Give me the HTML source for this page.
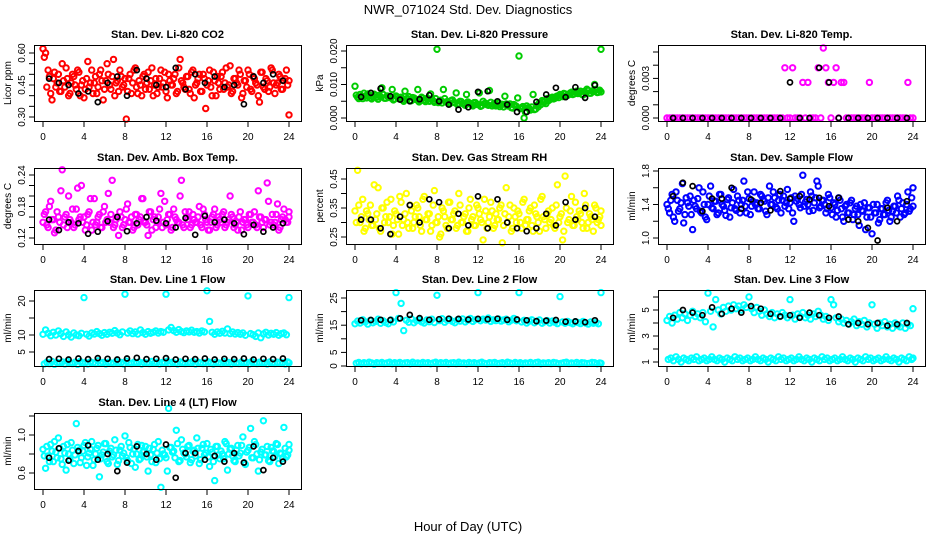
<!DOCTYPE html>
<html><head><meta charset="utf-8">
<style>
html,body{margin:0;padding:0;background:#fff;}
svg{display:block;font-family:"Liberation Sans",Arial,sans-serif;}
</style></head>
<body>
<svg id="chart" width="936" height="540" viewBox="0 0 936 540" xmlns="http://www.w3.org/2000/svg">
<rect width="936" height="540" fill="#fff"/>
<text x="468" y="14" text-anchor="middle" font-size="13">NWR_071024  Std. Dev. Diagnostics</text>
<text x="468" y="531" text-anchor="middle" font-size="13">Hour of Day (UTC)</text>
</svg>
<script>
const xTicks=[0,4,8,12,16,20,24];

const co2A=[0.62,0.60,0.52,0.41,0.48,0.44,0.50,0.42,0.47,0.53,0.40,0.46,0.49,0.43,0.51,0.45,0.39,0.48,0.44,0.52,0.46,0.41,0.50,0.47,0.43,0.55,0.45,0.49,0.40,0.47,0.52,0.44,0.48,0.42,0.50,0.46,0.53,0.41,0.45,0.49,0.43,0.51,0.47,0.40,0.48,0.44,0.52,0.46,0.42,0.50,0.45,0.48,0.41,0.53,0.47,0.44,0.49,0.43,0.51,0.39,0.46,0.50,0.42,0.48,0.45,0.52,0.40,0.47,0.49,0.43,0.51,0.46,0.44,0.54,0.42,0.48,0.45,0.50,0.41,0.47,0.52,0.43,0.49,0.46,0.40,0.51,0.44,0.48,0.42,0.53,0.46,0.45,0.50,0.43,0.47,0.52,0.31];
const co2B=[0.58,0.44,0.49,0.38,0.51,0.46,0.42,0.55,0.44,0.48,0.41,0.50,0.45,0.52,0.40,0.47,0.43,0.56,0.46,0.41,0.49,0.44,0.52,0.38,0.47,0.50,0.43,0.57,0.46,0.42,0.49,0.45,0.29,0.48,0.41,0.52,0.44,0.47,0.40,0.50,0.46,0.43,0.53,0.45,0.41,0.48,0.44,0.51,0.39,0.47,0.45,0.50,0.42,0.57,0.46,0.43,0.49,0.41,0.52,0.45,0.48,0.42,0.50,0.34,0.47,0.44,0.51,0.40,0.46,0.49,0.43,0.53,0.45,0.41,0.48,0.46,0.52,0.39,0.47,0.44,0.50,0.42,0.48,0.45,0.37,0.51,0.43,0.47,0.44,0.52,0.41,0.46,0.49,0.43,0.48,0.45,0.47];
const co2K=[0.48,0.46,0.45,0.41,0.42,0.37,0.46,0.49,0.40,0.52,0.48,0.45,0.44,0.53,0.43,0.50,0.46,0.49,0.44,0.45,0.36,0.49,0.46,0.50,0.47];

const presA=[0.0095,0.0062,0.0070,0.0058,0.0066,0.0072,0.0060,0.0064,0.0068,0.0056,0.0063,0.0070,0.0059,0.0065,0.0061,0.0054,0.0066,0.0058,0.0062,0.0050,0.0057,0.0064,0.0052,0.0060,0.0055,0.0048,0.0062,0.0053,0.0058,0.0050,0.0056,0.0047,0.0205,0.0052,0.0045,0.0058,0.0049,0.0043,0.0054,0.0046,0.0040,0.0050,0.0044,0.0038,0.0048,0.0042,0.0036,0.0046,0.0040,0.0035,0.0050,0.0044,0.0038,0.0047,0.0041,0.0036,0.0045,0.0039,0.0033,0.0042,0.0037,0.0031,0.0040,0.0035,0.0185,0.0030,0.0000,0.0036,0.0028,0.0033,0.0025,0.0038,0.0045,0.0052,0.0048,0.0058,0.0055,0.0062,0.0059,0.0066,0.0070,0.0064,0.0072,0.0068,0.0075,0.0070,0.0078,0.0073,0.0080,0.0069,0.0076,0.0082,0.0074,0.0079,0.0085,0.0077,0.0205];
const presB=[0.0068,0.0058,0.0064,0.0074,0.0060,0.0067,0.0057,0.0071,0.0062,0.0068,0.0090,0.0059,0.0066,0.0061,0.0085,0.0057,0.0063,0.0060,0.0054,0.0080,0.0058,0.0051,0.0061,0.0056,0.0085,0.0052,0.0059,0.0049,0.0056,0.0072,0.0051,0.0058,0.0046,0.0053,0.0085,0.0048,0.0044,0.0052,0.0047,0.0075,0.0043,0.0049,0.0041,0.0070,0.0045,0.0039,0.0046,0.0041,0.0075,0.0037,0.0043,0.0040,0.0082,0.0036,0.0044,0.0039,0.0034,0.0041,0.0065,0.0036,0.0042,0.0030,0.0037,0.0060,0.0028,0.0034,0.0018,0.0030,0.0024,0.0070,0.0027,0.0033,0.0040,0.0048,0.0043,0.0052,0.0060,0.0057,0.0064,0.0061,0.0068,0.0073,0.0066,0.0070,0.0077,0.0072,0.0080,0.0075,0.0071,0.0079,0.0086,0.0074,0.0081,0.0100,0.0076,0.0083,0.0078];
const presK=[0.0063,0.0075,0.0088,0.0065,0.0055,0.0050,0.0056,0.0068,0.0050,0.0040,0.0025,0.0032,0.0078,0.0080,0.0050,0.0040,0.0018,0.0018,0.0048,0.0070,0.0090,0.0062,0.0092,0.0060,0.0098];

const tempA=[0,0,0,0,0,0,0,0,0,0,0,0,0,0,0,0,0,0,0,0,0,0,0,0,0,0,0,0,0,0,0,0,0,0,0,0,0,0,0,0,0,0,0,0,0,0,0.0038,0,0,0.0038,0,0,0,0.0027,0,0.0027,0,0,0,0.0038,0,0.0053,0.0038,0.0027,0,0.0027,0.0038,0,0.0027,0.0027,0,0,0,0,0,0,0,0,0,0.0027,0,0,0,0,0,0,0,0,0,0,0,0,0,0,0.0027,0,0];
const tempK=[0,0,0,0,0,0,0,0,0,0,0,0,0.0027,0,0,0.0038,0.0027,0,0,0,0,0,0,0,0];

const ambA=[0.150,0.170,0.140,0.190,0.155,0.135,0.160,0.210,0.145,0.165,0.200,0.150,0.140,0.175,0.155,0.220,0.160,0.145,0.170,0.135,0.195,0.150,0.165,0.140,0.180,0.155,0.150,0.230,0.145,0.160,0.170,0.140,0.155,0.185,0.150,0.135,0.165,0.145,0.160,0.195,0.150,0.125,0.170,0.155,0.140,0.160,0.205,0.150,0.145,0.165,0.135,0.175,0.155,0.150,0.230,0.140,0.160,0.170,0.145,0.155,0.150,0.180,0.140,0.165,0.150,0.135,0.160,0.175,0.145,0.155,0.165,0.140,0.150,0.200,0.160,0.145,0.135,0.170,0.150,0.155,0.140,0.165,0.150,0.145,0.210,0.160,0.140,0.155,0.190,0.150,0.145,0.165,0.135,0.155,0.175,0.150,0.160];
const ambB=[0.165,0.145,0.180,0.155,0.130,0.170,0.150,0.250,0.160,0.140,0.155,0.175,0.145,0.215,0.160,0.150,0.135,0.165,0.195,0.150,0.145,0.160,0.140,0.170,0.150,0.205,0.165,0.140,0.155,0.125,0.160,0.145,0.175,0.150,0.160,0.140,0.165,0.155,0.195,0.150,0.145,0.170,0.135,0.160,0.150,0.175,0.140,0.190,0.155,0.165,0.140,0.160,0.150,0.200,0.145,0.170,0.155,0.140,0.165,0.150,0.160,0.145,0.175,0.155,0.135,0.150,0.165,0.140,0.160,0.150,0.170,0.145,0.155,0.165,0.140,0.150,0.160,0.135,0.155,0.145,0.165,0.150,0.170,0.140,0.160,0.150,0.155,0.225,0.145,0.165,0.150,0.185,0.140,0.160,0.155,0.150,0.170];
const ambK=[0.155,0.135,0.150,0.148,0.128,0.132,0.152,0.160,0.133,0.148,0.160,0.153,0.148,0.140,0.158,0.126,0.162,0.150,0.155,0.148,0.127,0.145,0.132,0.140,0.148];

const rhA=[0.34,0.48,0.30,0.38,0.28,0.33,0.36,0.29,0.31,0.42,0.27,0.35,0.32,0.30,0.38,0.29,0.33,0.26,0.37,0.31,0.40,0.28,0.34,0.30,0.36,0.32,0.27,0.39,0.31,0.33,0.29,0.41,0.30,0.25,0.35,0.32,0.28,0.37,0.31,0.34,0.29,0.36,0.30,0.33,0.27,0.38,0.32,0.29,0.35,0.31,0.24,0.34,0.30,0.37,0.28,0.33,0.31,0.36,0.29,0.42,0.32,0.27,0.35,0.30,0.33,0.28,0.38,0.31,0.34,0.29,0.36,0.32,0.27,0.39,0.31,0.33,0.30,0.35,0.28,0.43,0.32,0.24,0.46,0.30,0.34,0.29,0.37,0.31,0.33,0.28,0.36,0.30,0.32,0.27,0.35,0.31,0.29];
const rhB=[0.30,0.36,0.32,0.27,0.34,0.31,0.29,0.43,0.33,0.28,0.35,0.30,0.37,0.32,0.26,0.34,0.31,0.39,0.29,0.33,0.30,0.36,0.28,0.32,0.35,0.29,0.38,0.31,0.33,0.27,0.36,0.30,0.32,0.26,0.34,0.29,0.37,0.31,0.33,0.28,0.40,0.30,0.32,0.27,0.35,0.31,0.29,0.36,0.33,0.30,0.38,0.28,0.32,0.34,0.29,0.31,0.35,0.23,0.33,0.30,0.36,0.28,0.32,0.34,0.30,0.37,0.29,0.31,0.35,0.27,0.33,0.30,0.38,0.32,0.28,0.34,0.31,0.29,0.36,0.30,0.33,0.27,0.35,0.31,0.39,0.29,0.32,0.34,0.30,0.40,0.28,0.33,0.31,0.36,0.30,0.32,0.34];
const rhK=[0.31,0.31,0.28,0.26,0.32,0.36,0.30,0.38,0.37,0.28,0.33,0.29,0.39,0.28,0.38,0.30,0.28,0.27,0.28,0.33,0.29,0.37,0.31,0.35,0.32];

const flowA=[1.40,1.30,1.52,1.20,1.45,1.35,1.65,1.28,1.42,1.50,1.10,1.38,1.47,1.32,1.55,1.25,1.40,1.62,1.35,1.44,1.30,1.52,1.38,1.27,1.48,1.36,1.58,1.33,1.45,1.40,1.68,1.30,1.47,1.38,1.55,1.42,1.35,1.50,1.44,1.28,1.62,1.40,1.48,1.35,1.52,1.45,1.38,1.58,1.42,1.30,1.50,1.47,1.36,1.75,1.43,1.40,1.55,1.33,1.48,1.62,1.38,1.45,1.30,1.52,1.36,1.42,1.25,1.48,1.35,1.20,1.40,1.30,1.45,1.28,1.38,1.15,1.33,1.42,1.25,1.36,1.05,1.30,1.40,1.22,1.35,1.28,1.45,1.20,1.32,1.38,1.50,1.25,1.42,1.30,1.55,1.35,1.60];
const flowB=[1.35,1.45,1.25,1.55,1.32,1.42,1.18,1.48,1.38,1.28,1.45,1.35,1.60,1.30,1.40,1.22,1.50,1.36,1.44,1.28,1.52,1.40,1.33,1.46,1.25,1.42,1.35,1.50,1.30,1.45,1.38,1.55,1.28,1.44,1.40,1.35,1.52,1.46,1.32,1.48,1.40,1.55,1.37,1.45,1.30,1.50,1.42,1.35,1.48,1.20,1.44,1.40,1.52,1.38,1.46,1.32,1.50,1.42,1.68,1.36,1.45,1.40,1.35,1.48,1.28,1.40,1.33,1.45,1.25,1.38,1.30,1.42,1.22,1.35,1.28,1.40,1.32,1.10,1.36,1.25,1.40,1.30,1.18,1.35,1.28,1.42,1.33,1.25,1.38,1.30,1.45,1.35,1.28,1.40,1.32,1.48,1.38];
const flowK=[1.50,1.66,1.62,1.32,1.47,1.47,1.60,1.35,1.46,1.42,1.33,1.56,1.47,1.50,1.46,1.48,1.38,1.48,1.22,1.20,1.12,0.97,1.36,1.20,1.44];

const l1A=[10.2,11.5,10.5,9.8,10.8,10.0,11.2,10.4,9.6,10.9,10.1,9.4,10.6,10.0,9.8,10.5,21.0,10.2,9.7,10.6,10.3,11.0,10.4,9.9,10.7,10.2,10.8,10.5,11.3,10.6,10.1,10.9,22.0,10.6,11.2,10.4,10.9,10.3,11.5,10.7,10.2,11.0,10.5,10.8,11.2,10.6,11.0,10.8,22.0,11.5,12.2,11.3,10.8,11.6,11.0,10.7,11.2,10.9,11.4,10.8,11.0,10.6,11.2,10.9,23.0,14.0,10.8,10.2,10.9,10.5,11.1,10.6,11.8,10.4,10.9,10.3,10.7,10.2,10.6,9.9,21.5,10.4,10.1,9.6,10.6,9.2,10.3,10.8,10.0,10.5,10.2,10.7,9.9,10.4,10.6,10.1,21.0];
const l1B=[1.5,2.0,1.6,2.2,1.4,1.9,1.7,2.1,1.5,2.3,1.8,1.6,2.0,1.4,2.2,1.7,1.9,1.5,2.1,1.8,1.6,2.4,1.7,1.9,1.5,2.0,1.8,1.6,2.2,1.7,1.9,1.5,2.3,1.8,1.6,2.0,1.7,2.1,1.5,1.9,1.8,1.6,2.2,1.7,2.0,1.5,1.9,1.8,2.3,1.6,2.0,1.7,1.5,2.1,1.8,1.6,1.9,1.7,2.2,1.5,2.0,1.8,1.6,1.9,2.1,1.7,1.5,2.0,1.8,1.6,2.2,1.7,1.9,1.5,2.0,1.8,1.6,2.1,1.7,1.9,1.5,2.2,1.8,1.6,2.0,1.7,1.9,1.5,2.1,1.8,1.6,2.0,1.7,1.9,1.5,2.1,1.8];
const l1K=[2.9,3.0,2.8,3.1,2.9,3.2,3.0,2.8,3.1,3.3,2.9,3.0,3.2,2.8,3.0,2.9,3.1,2.8,3.0,2.9,3.1,2.8,3.0,2.9,3.1];

const l2A=[15.5,16.5,15.8,17.0,16.2,15.4,16.8,15.9,16.4,17.2,15.7,16.6,16.0,15.5,16.9,16.2,27.0,17.5,23.0,13.0,16.8,16.1,17.3,15.9,16.6,17.0,16.2,15.8,16.9,16.3,17.2,16.0,26.0,16.7,17.4,16.1,16.8,17.1,16.4,15.9,17.0,16.5,17.3,16.2,16.8,17.5,16.4,17.0,27.0,16.6,17.2,16.9,17.6,16.4,17.0,16.7,17.3,16.5,16.9,17.2,16.3,16.8,17.5,16.6,27.0,16.2,16.8,15.8,16.5,17.0,15.9,16.4,16.9,15.7,16.3,16.7,15.8,16.5,16.1,15.6,25.5,16.2,15.7,16.4,15.9,15.5,16.3,16.0,15.6,16.4,15.8,15.4,16.2,15.7,16.0,15.5,27.0];
const l2B=[1.0,1.3,0.8,1.2,0.9,1.4,1.1,0.7,1.2,1.0,1.3,0.9,1.1,1.4,0.8,1.2,1.0,1.3,0.9,1.1,1.2,0.8,1.4,1.0,1.1,0.9,1.3,1.0,1.2,0.8,1.1,1.4,0.9,1.2,1.0,1.3,0.8,1.1,1.2,0.9,1.4,1.0,1.1,0.8,1.3,1.0,1.2,0.9,1.1,1.4,1.0,0.8,1.2,1.1,1.3,0.9,1.0,1.2,0.8,1.4,1.1,0.9,1.3,1.0,1.2,0.8,1.1,1.0,1.3,0.9,1.2,1.4,0.8,1.1,1.0,1.2,0.9,1.3,1.1,0.8,1.0,1.2,1.4,0.9,1.1,1.0,1.3,0.8,1.2,1.1,0.9,1.0,1.3,1.2,0.8,1.1,1.0];
const l2K=[16.8,16.9,17.0,16.9,17.5,18.8,17.6,17.0,17.2,17.4,17.3,17.1,17.3,17.2,17.4,17.0,17.1,16.8,16.5,16.7,16.9,16.3,16.4,16.1,16.8];

const l3A=[4.2,4.5,4.0,4.6,4.3,4.8,4.4,4.7,4.2,4.6,4.9,4.5,4.7,4.4,4.8,4.1,6.3,4.9,3.7,5.8,5.0,4.7,5.2,4.9,5.3,5.0,5.4,5.1,5.3,5.0,5.4,5.2,6.0,5.1,4.8,5.2,4.9,4.6,5.0,4.7,4.5,4.8,4.4,4.7,4.5,4.8,4.6,4.4,5.8,4.6,4.3,4.7,4.5,4.8,4.4,4.6,4.3,4.7,4.5,4.9,4.6,4.3,4.5,4.2,5.8,5.4,4.4,4.1,4.3,4.0,4.2,3.9,4.1,4.3,3.8,4.1,3.9,4.2,3.7,4.0,5.4,3.9,3.6,4.0,3.8,4.1,3.7,3.9,3.6,4.0,3.8,3.7,4.0,3.6,3.9,3.8,5.1];
const l3B=[1.2,1.3,1.1,1.4,1.2,1.0,1.3,1.2,1.1,1.3,1.2,1.4,1.1,1.2,1.3,1.1,1.2,1.4,1.2,1.1,1.3,1.2,1.0,1.3,1.2,1.1,1.4,1.2,1.3,1.1,1.2,1.3,1.1,1.2,1.4,1.2,1.1,1.3,1.2,1.0,1.3,1.2,1.1,1.4,1.2,1.3,1.1,1.2,1.3,1.1,1.2,1.4,1.2,1.1,1.3,1.2,1.0,1.3,1.2,1.1,1.4,1.2,1.3,1.1,1.2,1.3,1.1,1.2,1.4,1.2,1.1,1.3,1.2,1.0,1.3,1.2,1.1,1.4,1.2,1.3,1.1,1.2,1.3,1.1,1.2,1.4,1.2,1.1,1.3,1.2,1.0,1.3,1.2,1.1,1.4,1.2,1.3];
const l3K=[4.4,5.0,4.8,4.6,5.2,4.7,5.1,4.8,5.3,5.1,4.7,4.5,4.6,4.4,4.8,4.6,4.4,4.5,3.9,4.0,3.9,4.0,3.8,3.9,4.0];

const l4A=[0.85,0.65,0.78,0.90,0.72,0.82,0.97,0.75,0.88,0.63,0.80,0.92,0.70,1.12,0.84,0.76,0.89,0.68,0.81,0.93,0.74,0.86,0.56,0.79,0.91,0.72,0.83,0.77,0.95,0.69,0.84,0.78,0.99,0.73,0.87,0.80,0.66,0.90,0.75,0.82,0.88,0.62,0.79,0.85,0.71,0.93,0.45,0.80,0.76,1.28,0.87,0.83,1.05,0.72,0.95,0.81,0.77,0.89,0.74,0.84,0.97,0.70,0.86,0.79,0.91,0.67,0.82,0.52,0.88,0.75,0.80,0.93,0.63,0.85,0.78,0.72,0.89,0.81,0.98,0.69,0.84,1.07,0.76,0.90,0.62,0.82,1.15,0.79,0.73,0.87,0.83,0.91,0.70,0.80,1.08,0.77,0.90];
const l4B=[0.78,0.88,0.72,0.83,0.93,0.76,0.86,0.69,0.81,0.90,0.74,0.84,0.79,0.87,0.71,0.83,0.92,0.77,0.85,0.68,0.80,0.89,0.75,0.82,0.91,0.70,0.86,0.79,0.84,0.73,0.88,0.81,0.76,0.92,0.70,0.85,0.80,0.74,0.89,0.83,0.77,0.86,0.72,0.90,0.81,0.75,0.84,0.79,0.62,0.87,0.82,0.76,0.91,0.73,0.85,0.80,0.88,0.71,0.83,0.78,0.86,0.74,0.90,0.81,0.77,0.85,0.72,0.88,0.79,0.83,0.75,0.91,0.80,0.86,0.73,0.84,0.78,0.89,0.71,0.82,0.87,0.76,0.93,0.80,0.74,0.85,0.79,0.88,0.72,0.83,0.77,0.90,0.81,0.75,0.86,0.79,0.84];
const l4K=[0.76,0.86,0.73,0.83,0.89,0.74,0.80,0.62,0.71,0.88,0.80,0.74,0.90,0.55,0.81,0.81,0.74,0.78,0.72,0.81,0.71,0.88,0.63,0.76,0.72];

const co2Ticks=[0.30,0.35,0.40,0.45,0.50,0.55,0.60], co2Labels=["0.30","0.45","0.60"];
const presTicks=[0,0.005,0.010,0.015,0.020], presLabels=["0.000","0.010","0.020"];
const tempTicks=[0,0.001,0.002,0.003,0.004,0.005], tempLabels=["0.000","0.003"];
const ambTicks=[0.12,0.14,0.16,0.18,0.20,0.22,0.24], ambLabels=["0.12","0.18","0.24"];
const rhTicks=[0.25,0.30,0.35,0.40,0.45], rhLabels=["0.25","0.35","0.45"];
const flowTicks=[1.0,1.2,1.4,1.6,1.8], flowLabels=["1.0","1.4","1.8"];
const l1Ticks=[5,10,15,20], l1Labels=["5","10","20"];
const l2Ticks=[0,5,10,15,20,25], l2Labels=["0","5","15","25"];
const l3Ticks=[1,2,3,4,5,6], l3Labels=["1","3","5"];
const l4Ticks=[0.6,0.8,1.0,1.2], l4Labels=["0.6","1.0"];

const NS="http://www.w3.org/2000/svg";
const svg=document.getElementById('chart');
const colL=[34,346,658], rowT=[45,168,290,413], W=267, H=76;
function mk(tag,attrs,parent){const e=document.createElementNS(NS,tag);for(const k in attrs)e.setAttribute(k,attrs[k]);(parent||svg).appendChild(e);return e;}

const panels=[
 {name:'co2',title:'Stan. Dev. Li-820 CO2',ylab:'Licor ppm',c:0,r:0,col:'#ff0000',cal:[0.30,72,0.60,8],ticks:co2Ticks,labels:co2Labels,series:[co2A,co2B],blk:co2K},
 {name:'pressure',title:'Stan. Dev. Li-820 Pressure',ylab:'kPa',c:1,r:0,col:'#00cc00',cal:[0,73,0.020,6],ticks:presTicks,labels:presLabels,series:[presA,presB],blk:presK},
 {name:'licor-temp',title:'Stan. Dev. Li-820 Temp.',ylab:'degrees C',c:2,r:0,col:'#ff00ff',cal:[0,73,0.005,7],ticks:tempTicks,labels:tempLabels,series:[tempA],blk:tempK},
 {name:'amb-box-temp',title:'Stan. Dev. Amb. Box Temp.',ylab:'degrees C',c:0,r:1,col:'#ff00ff',cal:[0.12,70,0.24,7],ticks:ambTicks,labels:ambLabels,series:[ambA,ambB],blk:ambK},
 {name:'gas-stream-rh',title:'Stan. Dev. Gas Stream RH',ylab:'percent',c:1,r:1,col:'#ffff00',cal:[0.25,69,0.45,11],ticks:rhTicks,labels:rhLabels,series:[rhA,rhB],blk:rhK},
 {name:'sample-flow',title:'Stan. Dev. Sample Flow',ylab:'ml/min',c:2,r:1,col:'#0000ff',cal:[1.0,70,1.8,3],ticks:flowTicks,labels:flowLabels,series:[flowA,flowB],blk:flowK},
 {name:'line1-flow',title:'Stan. Dev. Line 1 Flow',ylab:'ml/min',c:0,r:2,col:'#00ffff',cal:[5,62,20,11],ticks:l1Ticks,labels:l1Labels,series:[l1A,l1B],blk:l1K},
 {name:'line2-flow',title:'Stan. Dev. Line 2 Flow',ylab:'ml/min',c:1,r:2,col:'#00ffff',cal:[0,76,25,8],ticks:l2Ticks,labels:l2Labels,series:[l2A,l2B],blk:l2K},
 {name:'line3-flow',title:'Stan. Dev. Line 3 Flow',ylab:'ml/min',c:2,r:2,col:'#00ffff',cal:[1,72,5,20],ticks:l3Ticks,labels:l3Labels,series:[l3A,l3B],blk:l3K},
 {name:'line4-flow',title:'Stan. Dev. Line 4 (LT) Flow',ylab:'ml/min',c:0,r:3,col:'#00ffff',cal:[0.6,60,1.0,22],ticks:l4Ticks,labels:l4Labels,series:[l4A,l4B],blk:l4K}
];

panels.forEach(p=>{
  const L=colL[p.c], T=rowT[p.r], B=T+H;
  const g=mk('g',{});
  
  
  const xs=h=>L+9+h*(246/24);
  const [v1,p1,v2,p2]=p.cal;
  const ys=v=>T+p1+(v-v1)*(p2-p1)/(v2-v1);
  p.series.forEach((arr,si)=>{
    const sg=mk('g',{},g);
    
    
    arr.forEach((v,i)=>{
      const h=i*0.25+(si===1?0.125:0);
      const c=mk('circle',{cx:xs(Math.min(h,24)).toFixed(1),cy:ys(v).toFixed(1),r:2.7,fill:'none',stroke:p.col,'stroke-width':2},sg);
      
      
    });
  });
  const kg=mk('g',{},g);
  
  
  p.blk.forEach((v,i)=>{
    const h=0.6+i*0.95;
    const c=mk('circle',{cx:xs(h).toFixed(1),cy:ys(v).toFixed(1),r:2.5,fill:'none',stroke:'#000','stroke-width':1.7},kg);
    
    
  });
  const box=mk('rect',{x:L+0.5,y:T+0.5,width:W,height:H,fill:'none',stroke:'#000','stroke-width':1},g);
  
  
  const t=mk('text',{x:L+W/2,y:T-7,'text-anchor':'middle','font-size':11,'font-weight':'bold'},g);
  t.textContent=p.title;
  
  
  xTicks.forEach(h=>{
    const x=xs(h);
    mk('line',{x1:x,y1:B+0.5,x2:x,y2:B+6,stroke:'#000','stroke-width':1},g);
    const lt=mk('text',{x:x,y:B+19,'text-anchor':'middle','font-size':10},g);
    lt.textContent=String(h);
    
    
  });
  p.ticks.forEach(v=>{
    const y=ys(v);
    mk('line',{x1:L-5,y1:y,x2:L+0.5,y2:y,stroke:'#000','stroke-width':1},g);
  });
  p.labels.forEach(s=>{
    const y=ys(parseFloat(s));
    const lt=mk('text',{x:0,y:0,'text-anchor':'middle','font-size':10,transform:`translate(${L-9},${y}) rotate(-90)`},g);
    lt.textContent=s;
    
    
  });
  const yl=mk('text',{x:0,y:0,'text-anchor':'middle','font-size':10,transform:`translate(${L-23},${T+H/2}) rotate(-90)`},g);
  yl.textContent=p.ylab;
  
  
});
</script>
</body></html>
